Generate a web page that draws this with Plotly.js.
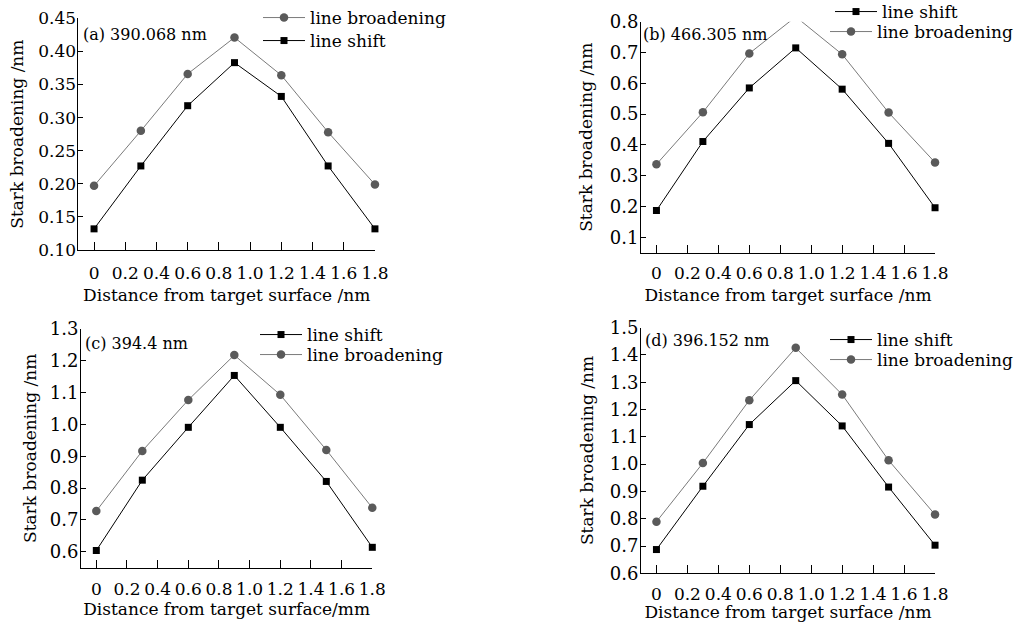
<!DOCTYPE html>
<html>
<head>
<meta charset="utf-8">
<script src="https://cdn.plot.ly/plotly-3.0.1.min.js"></script>
<style>html,body{margin:0;padding:0;background:#fff;}#chart{width:1020px;height:622px;}</style>
</head>
<body>
<div id="chart"></div>
<script>
// Distance from target surface
const distance = [0, 0.3, 0.6, 0.9, 1.2, 1.5, 1.8];

// (a) 390.068 nm
const broadA = [0.197, 0.280, 0.366, 0.421, 0.364, 0.278, 0.199];
const shiftA = [0.132, 0.227, 0.318, 0.383, 0.332, 0.227, 0.132];
// (b) 466.305 nm
const shiftB = [0.187, 0.411, 0.585, 0.715, 0.581, 0.405, 0.196];
const broadB = [0.337, 0.506, 0.697, 0.816, 0.694, 0.505, 0.343];
// (c) 394.4 nm
const shiftC = [0.604, 0.825, 0.991, 1.154, 0.991, 0.821, 0.614];
const broadC = [0.728, 0.917, 1.077, 1.218, 1.093, 0.920, 0.738];
// (d) 396.152 nm
const shiftD = [0.687, 0.919, 1.145, 1.306, 1.140, 0.916, 0.703];
const broadD = [0.789, 1.004, 1.234, 1.426, 1.255, 1.014, 0.815];

// Tick labels
const xTickVals = [0, 0.2, 0.4, 0.6, 0.8, 1.0, 1.2, 1.4, 1.6, 1.8];
const xTickText = ["0", "0.2", "0.4", "0.6", "0.8", "1.0", "1.2", "1.4", "1.6", "1.8"];
const yTickValsA = [0.10, 0.15, 0.20, 0.25, 0.30, 0.35, 0.40, 0.45];
const yTickTextA = ["0.10", "0.15", "0.20", "0.25", "0.30", "0.35", "0.40", "0.45"];
const yTickValsB = [0.1, 0.2, 0.3, 0.4, 0.5, 0.6, 0.7, 0.8];
const yTickTextB = ["0.1", "0.2", "0.3", "0.4", "0.5", "0.6", "0.7", "0.8"];
const yTickValsC = [0.6, 0.7, 0.8, 0.9, 1.0, 1.1, 1.2, 1.3];
const yTickTextC = ["0.6", "0.7", "0.8", "0.9", "1.0", "1.1", "1.2", "1.3"];
const yTickValsD = [0.6, 0.7, 0.8, 0.9, 1.0, 1.1, 1.2, 1.3, 1.4, 1.5];
const yTickTextD = ["0.6", "0.7", "0.8", "0.9", "1.0", "1.1", "1.2", "1.3", "1.4", "1.5"];

const FONT = "DejaVu Serif, Liberation Serif, serif";
const FS = 17;
const GRAY_LINE = "#7a7a7a";
const GRAY_MARK = "#5a5a5a";

function shiftTrace(y, xa, ya, leg) {
  return {x: distance, y: y, xaxis: xa, yaxis: ya, legend: leg, name: "line shift",
    type: "scatter", mode: "lines+markers", cliponaxis: false,
    line: {color: "#000", width: 1}, marker: {symbol: "square", size: 7, color: "#000"}};
}
function broadTrace(y, xa, ya, leg) {
  return {x: distance, y: y, xaxis: xa, yaxis: ya, legend: leg, name: "line broadening",
    type: "scatter", mode: "lines+markers", cliponaxis: false,
    line: {color: GRAY_LINE, width: 1}, marker: {symbol: "circle", size: 8.5, color: GRAY_MARK}};
}

const data = [
  broadTrace(broadA, "x", "y", "legend"),
  shiftTrace(shiftA, "x", "y", "legend2"),
  shiftTrace(shiftB, "x2", "y2", "legend3"),
  broadTrace(broadB, "x2", "y2", "legend4"),
  shiftTrace(shiftC, "x3", "y3", "legend5"),
  broadTrace(broadC, "x3", "y3", "legend6"),
  shiftTrace(shiftD, "x4", "y4", "legend7"),
  broadTrace(broadD, "x4", "y4", "legend8")
];

function xAxis(domain, anchor, title, labelStandoff, standoff) {
  return {domain: domain, anchor: anchor, range: [-0.1, 1.8], showgrid: false, zeroline: false,
    showline: true, linecolor: "#000", linewidth: 1, ticks: "inside", ticklen: 8, tickwidth: 1,
    tickcolor: "#000", tickvals: xTickVals, ticktext: xTickText, ticklabelstandoff: labelStandoff,
    tickfont: {family: FONT, size: FS, color: "#000"},
    title: {text: title, font: {family: FONT, size: FS, color: "#000"}, standoff: standoff}};
}
function yAxis(domain, anchor, range, vals, text, fs, standoff) {
  return {domain: domain, anchor: anchor, range: range, showgrid: false, zeroline: false,
    showline: true, linecolor: "#000", linewidth: 1, ticks: "inside", ticklen: 5, tickwidth: 1,
    tickcolor: "#000", tickvals: vals, ticktext: text, ticklabelstandoff: -2,
    tickfont: {family: FONT, size: fs, color: "#000"},
    title: {text: "Stark broadening /nm", font: {family: FONT, size: FS, color: "#000"}, standoff: standoff}};
}
function legendAt(xPx, yPx) {
  return {x: xPx / 1020, y: 1 - yPx / 622, xanchor: "left", yanchor: "middle", xref: "paper", yref: "paper",
    bgcolor: "rgba(0,0,0,0)", borderwidth: 0, tracegroupgap: 0, itemwidth: 42,
    font: {family: FONT, size: FS, color: "#000"}};
}
function label(text, x, y) {
  return {text: text, x: x, y: y, xref: "paper", yref: "paper", xanchor: "left", yanchor: "middle",
    showarrow: false, font: {family: FONT, size: 16, color: "#000"}};
}

const layout = {
  width: 1020, height: 622,
  margin: {l: 0, r: 0, t: 0, b: 0, autoexpand: false},
  paper_bgcolor: "#fff", plot_bgcolor: "#fff",
  showlegend: true,
  xaxis: xAxis([0.0769, 0.3676], "y", "Distance from target surface /nm", 8, 6),
  yaxis: yAxis([0.598, 0.9706], "x", [0.10, 0.45], yTickValsA, yTickTextA, 17, 10),
  xaxis2: xAxis([0.6284, 0.9167], "y2", "Distance from target surface /nm", 5, 6),
  yaxis2: yAxis([0.5937, 0.9651], "x2", [0.05, 0.80], yTickValsB, yTickTextB, 18, 12),
  xaxis3: xAxis([0.0794, 0.3650], "y3", "Distance from target surface/mm", 6, 5),
  yaxis3: yAxis([0.0873, 0.4711], "x3", [0.55, 1.30], yTickValsC, yTickTextC, 18, 8),
  xaxis4: xAxis([0.6284, 0.9167], "y4", "Distance from target surface /nm", 5, 8),
  yaxis4: yAxis([0.0783, 0.4732], "x4", [0.60, 1.50], yTickValsD, yTickTextD, 18, 11),
  legend: legendAt(258, 18),
  legend2: legendAt(258, 41),
  legend3: legendAt(830, 12),
  legend4: legendAt(825, 32),
  legend5: legendAt(255, 335),
  legend6: legendAt(255, 355),
  legend7: legendAt(825, 340),
  legend8: legendAt(825, 360),
  annotations: [
    label("(a) 390.068 nm", 81 / 1020, 1 - 35 / 622),
    label("(b) 466.305 nm", 641 / 1020, 1 - 35 / 622),
    label("(c) 394.4 nm", 83 / 1020, 1 - 343 / 622),
    label("(d) 396.152 nm", 643 / 1020, 1 - 340 / 622)
  ]
};

Plotly.newPlot("chart", data, layout, {displayModeBar: false, staticPlot: true});
</script>
</body>
</html>
